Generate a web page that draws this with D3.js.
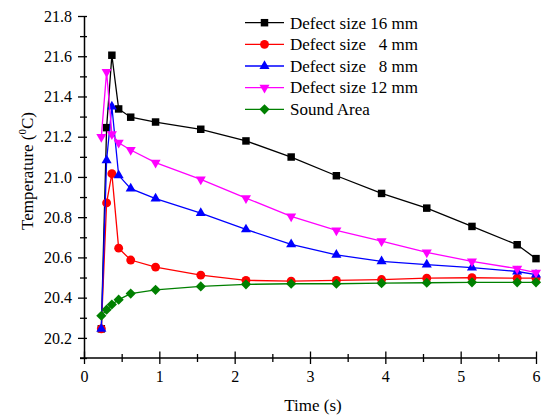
<!DOCTYPE html>
<html>
<head>
<meta charset="utf-8">
<script src="https://cdnjs.cloudflare.com/ajax/libs/d3/7.8.5/d3.min.js"></script>
<style>
  body { margin: 0; background: #fff; }
  svg { display: block; }
</style>
</head>
<body>
<div id="my_dataviz"></div>
<script>
// data
var times     = [0.23, 0.30, 0.37, 0.46, 0.62, 0.95, 1.55, 2.15, 2.75, 3.35, 3.95, 4.55, 5.15, 5.75, 6.0];
var defect16  = [20.245, 21.245, 21.605, 21.338, 21.297, 21.273, 21.237, 21.179, 21.099, 21.006, 20.918, 20.845, 20.754, 20.663, 20.594];
var defect4   = [20.245, 20.871, 21.016, 20.646, 20.587, 20.552, 20.512, 20.486, 20.482, 20.486, 20.490, 20.497, 20.499, 20.497, 20.497];
var defect8   = [20.245, 21.083, 21.350, 21.008, 20.942, 20.892, 20.820, 20.739, 20.665, 20.613, 20.580, 20.564, 20.549, 20.530, 20.514];
var defect12  = [21.199, 21.522, 21.213, 21.170, 21.134, 21.071, 20.988, 20.895, 20.804, 20.734, 20.681, 20.625, 20.580, 20.544, 20.524];
var sound     = [20.310, 20.340, 20.366, 20.390, 20.420, 20.439, 20.456, 20.466, 20.469, 20.469, 20.472, 20.474, 20.476, 20.476, 20.476];
var seriesNames = ["Defect size 16 mm", "Defect size   4 mm", "Defect size   8 mm", "Defect size 12 mm", "Sound Area"];
var xTicks = [0, 1, 2, 3, 4, 5, 6];
var yTicks = [20.2, 20.4, 20.6, 20.8, 21.0, 21.2, 21.4, 21.6, 21.8];

var series = [
  {name: seriesNames[0], values: defect16, color: "#000000", shape: "square"},
  {name: seriesNames[1], values: defect4,  color: "#ff0000", shape: "circle"},
  {name: seriesNames[2], values: defect8,  color: "#0000ff", shape: "up"},
  {name: seriesNames[3], values: defect12, color: "#ff00ff", shape: "down"},
  {name: seriesNames[4], values: sound,    color: "#008000", shape: "diamond"}
];

var font = "'Liberation Serif', 'Times New Roman', serif";

// set the dimensions and margins of the graph
var margin = {top: 16, right: 6, bottom: 60, left: 84},
    width = 542 - margin.left - margin.right,
    height = 418 - margin.top - margin.bottom;

var svg = d3.select("#my_dataviz")
  .append("svg")
    .attr("width", 542)
    .attr("height", 418)
    .append("g")
    .attr("transform", "translate(" + margin.left + "," + margin.top + ")");

var x = d3.scaleLinear().domain([0, 6]).range([0, width]);
var y = d3.scaleLinear().domain([20.1, 21.8]).range([height, 0]);

// minor ticks first, they cross the axis line
var xMinor = svg.append("g")
  .attr("transform", "translate(0," + height + ")")
  .call(d3.axisBottom(x).tickValues(d3.range(0.5, 6, 1)).tickSize(4).tickFormat(""));
xMinor.select(".domain").remove();
xMinor.selectAll(".tick line").attr("y1", -4).attr("stroke-width", 1.3);

var yMinor = svg.append("g")
  .call(d3.axisLeft(y).tickValues([20.1, 20.3, 20.5, 20.7, 20.9, 21.1, 21.3, 21.5, 21.7]).tickSize(4).tickFormat(""));
yMinor.select(".domain").remove();
yMinor.selectAll(".tick line").attr("x1", 3).attr("stroke-width", 1.3);

// X axis
var xAxis = svg.append("g")
  .attr("transform", "translate(0," + height + ")")
  .call(d3.axisBottom(x).tickValues(xTicks).tickSize(6).tickSizeOuter(0).tickPadding(6.5).tickFormat(d3.format("d")))
  .attr("font-family", font)
  .attr("font-size", 16);
xAxis.selectAll(".tick line").attr("y1", -6.5).attr("stroke-width", 1.3);
xAxis.select(".domain").attr("stroke-width", 1.5).attr("d", "M-4,0H" + width);
xAxis.selectAll("text").style("font-family", font).style("font-size", "16px").attr("fill", "#000");

// Y axis
var yAxis = svg.append("g")
  .call(d3.axisLeft(y).tickValues(yTicks).tickSize(6).tickSizeOuter(0).tickPadding(6).tickFormat(d3.format(".1f")))
  .attr("font-family", font)
  .attr("font-size", 16);
yAxis.selectAll(".tick line").attr("x1", 3).attr("stroke-width", 1.3);
yAxis.select(".domain").attr("stroke-width", 1.5);
yAxis.selectAll("text").style("font-family", font).style("font-size", "16px").attr("fill", "#000");

// text label for the x axis
svg.append("text")
  .attr("x", 229)
  .attr("y", 411 - margin.top)
  .attr("text-anchor", "middle")
  .style("font-family", font)
  .style("font-size", "17px")
  .text("Time (s)");

// text label for the y axis
var yl = svg.append("text")
  .attr("transform", "translate(" + (33 - margin.left) + "," + (171 - margin.top) + ") rotate(-90)")
  .attr("text-anchor", "middle")
  .style("font-family", font)
  .style("font-size", "17px");
yl.append("tspan").text("Temperature (");
yl.append("tspan").attr("dy", -7).style("font-size", "11px").text("0");
yl.append("tspan").attr("dy", 7).text("C)");

// marker path for a shape
function marker(shape) {
  if (shape == "square") return d3.symbol().type(d3.symbolSquare).size(56)();
  if (shape == "circle") return d3.symbol().type(d3.symbolCircle).size(62)();
  if (shape == "up" || shape == "down") return d3.symbol().type(d3.symbolTriangle).size(44)();
  return d3.symbol().type(d3.symbolSquare).size(52)();
}
function rot(shape) {
  if (shape == "down") return " rotate(180)";
  if (shape == "diamond") return " rotate(45)";
  return "";
}

var line = d3.line()
  .x(function(d) { return x(d[0]); })
  .y(function(d) { return y(d[1]); });

// Add the lines and markers
series.forEach(function(s) {
  var pts = times.map(function(t, i) { return [t, s.values[i]]; });
  svg.append("path")
    .datum(pts)
    .attr("fill", "none")
    .attr("stroke", s.color)
    .attr("stroke-width", 1.3)
    .attr("d", line);
  svg.selectAll(null)
    .data(pts)
    .enter()
    .append("path")
      .attr("d", marker(s.shape))
      .attr("fill", s.color)
      .attr("transform", function(d) { return "translate(" + x(d[0]) + "," + y(d[1]) + ")" + rot(s.shape); });
});

// legend
var legend = svg.append("g").attr("transform", "translate(" + (245 - margin.left) + "," + (22.7 - margin.top) + ")");
series.forEach(function(s, i) {
  var row = legend.append("g").attr("transform", "translate(0," + (i * 21.65) + ")");
  row.append("line")
    .attr("x1", 0).attr("x2", 39)
    .attr("stroke", s.color).attr("stroke-width", 1.3);
  row.append("path")
    .attr("d", marker(s.shape))
    .attr("fill", s.color)
    .attr("transform", "translate(19.5,0)" + rot(s.shape));
  row.append("text")
    .attr("x", 45)
    .attr("y", 5.8)
    .style("font-family", font)
    .style("font-size", "17px")
    .style("white-space", "pre")
    .attr("xml:space", "preserve")
    .text(s.name);
});
</script>
</body>
</html>
